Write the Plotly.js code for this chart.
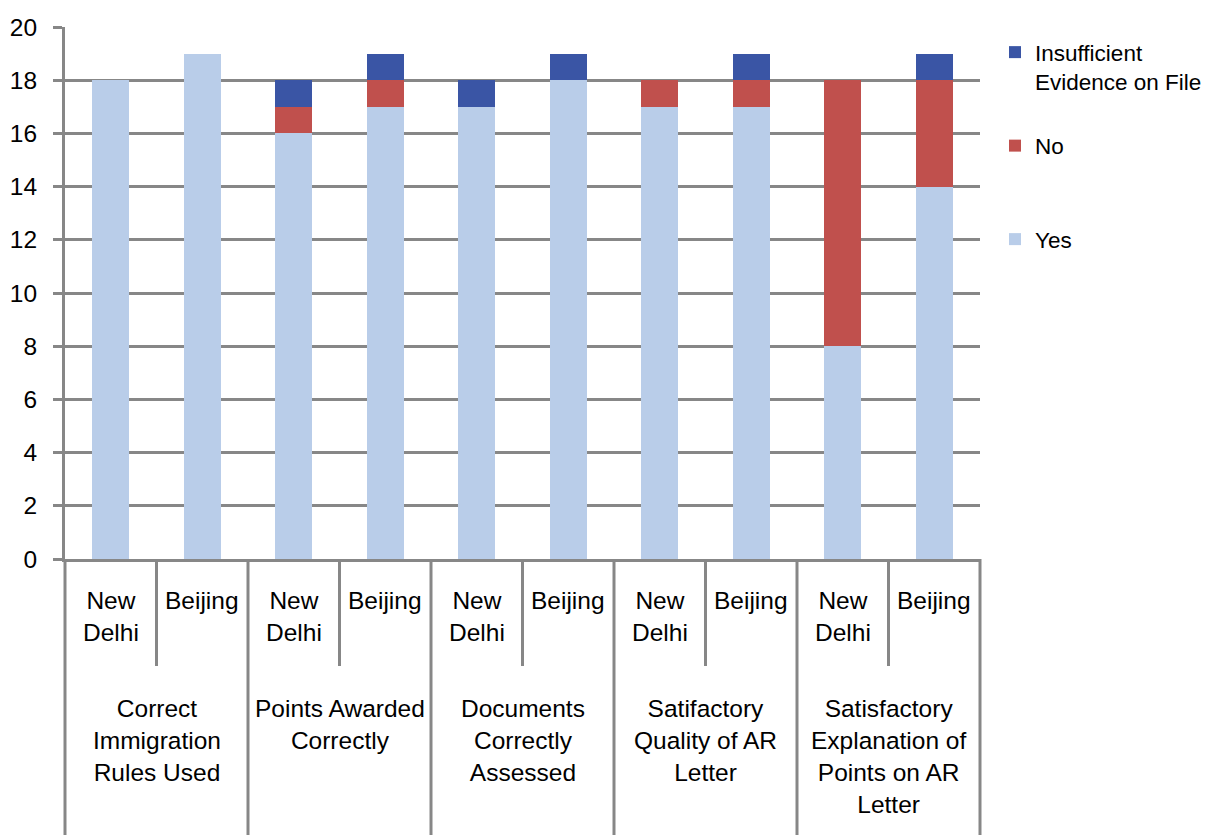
<!DOCTYPE html>
<html>
<head>
<meta charset="utf-8">
<script src="https://cdn.plot.ly/plotly-3.0.1.min.js"></script>
<style>html,body{margin:0;padding:0;background:#fff;}#chart{width:1214px;height:835px;}</style>
</head>
<body>
<div id="chart"></div>
<script>
// ---- data ----
const groups = [
  "Correct<br>Immigration<br>Rules Used",
  "Points Awarded<br>Correctly",
  "Documents<br>Correctly<br>Assessed",
  "Satifactory<br>Quality of AR<br>Letter",
  "Satisfactory<br>Explanation of<br>Points on AR<br>Letter"
];
const offices = ["New<br>Delhi", "Beijing"];
const yesValues          = [18, 19, 16, 17, 17, 18, 17, 17, 8, 14];
const noValues           = [0, 0, 1, 1, 0, 0, 1, 1, 10, 4];
const insufficientValues = [0, 0, 1, 1, 1, 1, 0, 1, 0, 1];
const seriesNames = ["Yes", "No", "Insufficient<br>Evidence on File"];
const yTicks = [0, 2, 4, 6, 8, 10, 12, 14, 16, 18, 20];

// ---- layout helpers ----
const W = 1214, H = 835;
const M = {l: 65, r: 234, t: 27, b: 276, autoexpand: false};
const plotH = H - M.t - M.b;
const plotW = W - M.l - M.r;
const py = px => (H - M.b - px) / plotH;       // pixel y -> paper y
const nBars = groups.length * offices.length;
const xIdx = yesValues.map((_, i) => i);
const gray = "#878787";
const FONT = "Liberation Sans, Arial, sans-serif";
const FS = 24.5;
const LFS = 22.5;

const colors = ["#B9CDE9", "#C0504D", "#3A55A5"];
const vals = [yesValues, noValues, insufficientValues];
const legendNames = ["Yes<br> ", "No<br> ", "Insufficient<br>Evidence on File"];

const traces = vals.map((v, k) => ({
  type: "bar",
  x: xIdx,
  y: v,
  name: legendNames[k],
  legendgroup: "g" + k,
  legendrank: 10 - k,
  width: 0.405,
  marker: {color: colors[k], line: {width: 0}},
  hoverinfo: "y+name"
}));

const annotations = [];
const shapes = [];
const toPaperX = x => (x + 0.5) / nBars;

// office labels
xIdx.forEach(i => {
  annotations.push({
    xref: "x", yref: "paper", x: i, y: py(585),
    text: offices[i % offices.length], showarrow: false,
    xanchor: "center", yanchor: "top", align: "center",
    font: {family: FONT, size: FS, color: "#000"}
  });
});
// group labels
groups.forEach((g, j) => {
  annotations.push({
    xref: "x", yref: "paper", x: j * offices.length + (offices.length - 1) / 2, y: py(693),
    text: g, showarrow: false,
    xanchor: "center", yanchor: "top", align: "center",
    font: {family: FONT, size: FS, color: "#000"}
  });
});
// divider lines
for (let b = 0; b <= nBars; b++) {
  const x = toPaperX(b - 0.5);
  const isGroup = b % offices.length === 0;
  shapes.push({
    type: "line", xref: "paper", yref: "paper",
    x0: x, x1: x, y0: 0, y1: isGroup ? py(H + 5) : py(666),
    line: {color: gray, width: 3}
  });
}

const layout = {
  width: W, height: H,
  margin: M,
  paper_bgcolor: "#fff", plot_bgcolor: "#fff",
  barmode: "stack",
  showlegend: true,
  font: {family: FONT, size: FS, color: "#000"},
  xaxis: {
    type: "linear", range: [-0.5, nBars - 0.5],
    showgrid: false, zeroline: false, showticklabels: false, ticks: "",
    showline: true, linecolor: gray, linewidth: 3,
    fixedrange: true
  },
  yaxis: {
    range: [0, 20], tickvals: yTicks, ticktext: yTicks.map(String),
    showgrid: true, gridcolor: gray, gridwidth: 3,
    zeroline: false,
    showline: true, linecolor: gray, linewidth: 3,
    ticks: "outside", ticklen: 9, tickwidth: 3, tickcolor: gray,
    ticklabelstandoff: 11,
    tickfont: {family: FONT, size: FS, color: "#000"},
    fixedrange: true
  },
  legend: {
    x: (995 - M.l) / plotW, xanchor: "left",
    y: py(31), yanchor: "top",
    valign: "top",
    traceorder: "grouped",
    tracegroupgap: 32,
    bgcolor: "rgba(0,0,0,0)", borderwidth: 0,
    font: {family: FONT, size: LFS, color: "#000"}
  },
  annotations: annotations,
  shapes: shapes
};

Plotly.newPlot("chart", traces, layout, {displayModeBar: false, staticPlot: true});
</script>
</body>
</html>
